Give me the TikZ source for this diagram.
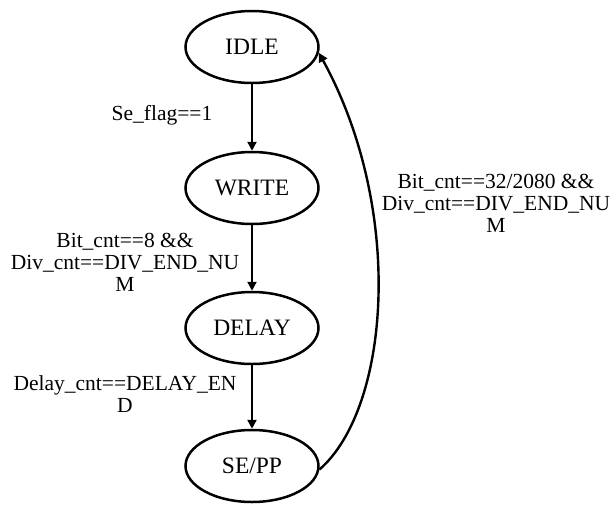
\documentclass[tikz,border=0pt]{standalone}
\usepackage{fontspec}
\setmainfont{Liberation Serif}
\usetikzlibrary{shapes.geometric,arrows.meta}
\begin{document}
\begin{tikzpicture}[x=1pt,y=-1pt,
  state/.style={draw,ellipse,line width=2.5pt,minimum width=133pt,minimum height=72pt,inner sep=0pt,font=\fontsize{23.5}{26}\selectfont},
  trans/.style={line width=2.4pt,-{Triangle[length=9pt,width=9pt]}},
  cond/.style={align=center,inner sep=0pt,font=\fontsize{21.5}{22}\selectfont}]
\useasboundingbox (0,0) rectangle (611,507);
% states
\node[state] (idle)  at (252,47)  {IDLE};
\node[state] (write) at (252,188) {WRITE};
\node[state] (delay) at (252,328) {DELAY};
\node[state] (sepp)  at (252,466) {SE/PP};
% transitions
\draw[trans] (idle) -- (write);
\draw[trans] (write) -- (delay);
\draw[trans] (delay) -- (sepp);
\draw[trans] (sepp.-3) .. controls (390,408) and (405,210) .. (idle.-5);
% conditions
\node[cond] (c1) at (162,115) {Se\_flag==1};
\node[cond] (c2) at (125,262) {Bit\_cnt==8 \&\&\\Div\_cnt==DIV\_END\_NU\\M};
\node[cond] (c3) at (125,394) {Delay\_cnt==DELAY\_EN\\D};
\node[cond] (c4) at (496,203) {Bit\_cnt==32/2080 \&\&\\Div\_cnt==DIV\_END\_NU\\M};
\end{tikzpicture}
\end{document}
